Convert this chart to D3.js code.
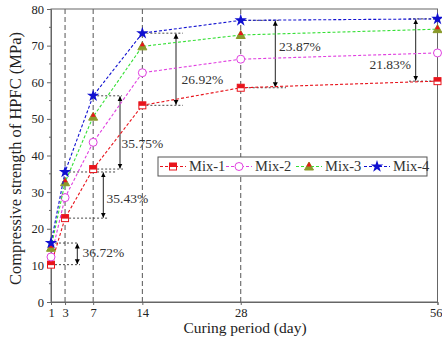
<!DOCTYPE html>
<html><head><meta charset="utf-8">
<script src="https://cdn.jsdelivr.net/npm/d3@7"></script>
<style>body{margin:0;background:#fff}</style>
</head><body><svg id="c" width="442" height="343"></svg>
<script>
const days = [1, 3, 7, 14, 28, 56];
const mix1 = [10.2, 22.9, 36.3, 53.7, 58.5, 60.3];
const mix2 = [12.3, 28.5, 43.6, 62.6, 66.3, 68.0];
const mix3 = [14.8, 32.7, 50.6, 69.8, 72.9, 74.5];
const mix4 = [16.1, 35.5, 56.3, 73.4, 76.9, 77.3];
const seriesNames = ["Mix-1", "Mix-2", "Mix-3", "Mix-4"];
const yTicks = [0, 10, 20, 30, 40, 50, 60, 70, 80];
const annotDays = [1, 3, 7, 14, 28, 56];
const annotLabels = ["36.72%", "35.43%", "35.75%", "26.92%", "23.87%", "21.83%"];

const FONT = "Liberation Serif";
const svg = d3.select("#c");
const W = 442, H = 343;
const m = {l: 51, r: 4.5, t: 9, b: 41};
const x = d3.scaleLinear().domain([1, 56]).range([m.l, W - m.r]);
const y = d3.scaleLinear().domain([0, 80]).range([H - m.b, m.t]);

// vertical reference lines
svg.append("g").selectAll("line").data(days.filter(d => d > 1 && d < 56)).join("line")
  .attr("x1", d => x(d)).attr("x2", d => x(d)).attr("y1", y(0)).attr("y2", y(80))
  .attr("stroke", "#555").attr("stroke-width", 1).attr("stroke-dasharray", "5,3");

// frame
svg.append("rect").attr("x", m.l).attr("y", m.t).attr("width", W - m.r - m.l).attr("height", H - m.b - m.t)
  .attr("fill", "none").attr("stroke", "#666").attr("stroke-width", 1);

// y axis
const ya = d3.axisLeft(y).tickValues(yTicks).tickSize(4).tickPadding(3);
const yg = svg.append("g").attr("transform", `translate(${m.l},0)`).call(ya).attr("font-family", FONT);
yg.select(".domain").attr("stroke", "#666");
yg.selectAll(".tick line").attr("stroke", "#666");
yg.selectAll("text").attr("font-size", 12.5).attr("fill", "#222");
svg.append("g").selectAll("line").data(d3.range(5, 80, 10)).join("line")
  .attr("x1", m.l - 2).attr("x2", m.l).attr("y1", d => y(d)).attr("y2", d => y(d)).attr("stroke", "#666");

// x axis
const xa = d3.axisBottom(x).tickValues(days).tickSize(3).tickPadding(3);
const xg = svg.append("g").attr("transform", `translate(0,${y(0)})`).call(xa).attr("font-family", FONT);
xg.select(".domain").attr("stroke", "#666");
xg.selectAll(".tick line").attr("stroke", "#666");
xg.selectAll("text").attr("font-size", 12.5).attr("fill", "#222");
xg.selectAll(".tick").filter(d => d === 56).select("text").attr("text-anchor", "end").attr("x", 4.5);

// titles
svg.append("text").attr("x", 245).attr("y", 333).attr("text-anchor", "middle").attr("font-family", FONT).attr("font-size", 15.5).attr("fill", "#222").text("Curing period (day)");
svg.append("text").attr("transform", `translate(21,${(m.t + y(0)) / 2 + 3}) rotate(-90)`).attr("text-anchor", "middle").attr("font-family", FONT).attr("font-size", 16.5).attr("fill", "#222").text("Compressive strength of HPFC (MPa)");

// annotations
const defs = svg.append("defs");
defs.append("marker").attr("id", "ah").attr("viewBox", "0 0 10 10").attr("refX", 10).attr("refY", 5)
  .attr("markerWidth", 5).attr("markerHeight", 6).attr("orient", "auto-start-reverse").attr("markerUnits", "userSpaceOnUse")
  .append("path").attr("d", "M0,0 L10,5 L0,10 z").attr("fill", "#000");
// layout per annotation: [topLineEnd, bottomLineEnd, arrowX, labelX, labelY, anchor, lineStart]
const annotLayout = [
  [78, 80, 77.3, 82.5, 256.5, "start", null],
  [117, 108, 103.3, 106.5, 202.5, "start", null],
  [122, 123, 120, 121.5, 148, "start", null],
  [183, 183, 176, 181.5, 84, "start", null],
  [280, 286, 275.3, 279, 50.5, "start", null],
  [437, 437, 415.7, 411, 69, "end", 409]
];
const ag = svg.append("g").attr("font-family", FONT);
annotDays.forEach((d, i) => {
  const L = annotLayout[i];
  const j = days.indexOf(d);
  const yt = y(mix4[j]), yb = y(mix1[j]);
  const xs = L[6] == null ? x(d) : L[6];
  ag.append("line").attr("x1", xs).attr("x2", L[0]).attr("y1", yt).attr("y2", yt).attr("stroke", "#333").attr("stroke-dasharray", "2,2").attr("stroke-width", 0.9);
  ag.append("line").attr("x1", xs).attr("x2", L[1]).attr("y1", yb).attr("y2", yb).attr("stroke", "#333").attr("stroke-dasharray", "2,2").attr("stroke-width", 0.9);
  ag.append("line").attr("x1", L[2]).attr("x2", L[2]).attr("y1", yt + 0.5).attr("y2", yb - 0.5).attr("stroke", "#222").attr("stroke-width", 1)
    .attr("marker-start", "url(#ah)").attr("marker-end", "url(#ah)");
  ag.append("text").attr("x", L[3]).attr("y", L[4]).attr("text-anchor", L[5]).attr("font-size", 13.5).attr("fill", "#333").text(annotLabels[i]);
});

// series
const colors = ["#e8141c", "#e040e0", "#36e036", "#1010d0"];
const allSeries = [mix1, mix2, mix3, mix4];
const line = d3.line().x((d, i) => x(days[i])).y(d => y(d));
const starPath = d3.symbol(d3.symbolStar, 48)();
function drawMarker(g, k) {
  if (k === 0) {
    g.append("rect").attr("x", -3.5).attr("y", -3.5).attr("width", 7).attr("height", 7).attr("fill", "#fff").attr("stroke", "#e8141c").attr("stroke-width", 1);
    g.append("rect").attr("x", -3.5).attr("y", -3.5).attr("width", 7).attr("height", 4).attr("fill", "#e8141c");
  } else if (k === 1) {
    g.append("circle").attr("r", 4).attr("fill", "#fff").attr("stroke", "#e040e0").attr("stroke-width", 1);
  } else if (k === 2) {
    g.append("path").attr("d", "M0,-4.5 L4.5,3.5 L-4.5,3.5 Z").attr("fill", "#8a9a2a").attr("stroke", "#8a9a2a");
    g.append("path").attr("d", "M0,-4.5 L2.5,0 L-2.5,0 Z").attr("fill", "#e8141c");
  } else {
    g.append("path").attr("d", starPath).attr("fill", "#1010d0");
  }
}
allSeries.forEach((s, k) => {
  svg.append("path").datum(s).attr("d", line).attr("fill", "none").attr("stroke", colors[k]).attr("stroke-width", 1.1).attr("stroke-dasharray", "3,2");
  s.forEach((v, i) => drawMarker(svg.append("g").attr("transform", `translate(${x(days[i])},${y(v)})`), k));
});

// legend
const lg = svg.append("g").attr("font-family", FONT);
lg.append("rect").attr("x", 158).attr("y", 157).attr("width", 269).attr("height", 19).attr("fill", "#fff").attr("stroke", "#555");
const legX = [160, 226, 296, 364];
seriesNames.forEach((n, k) => {
  const g = lg.append("g").attr("transform", `translate(${legX[k]},166.5)`);
  g.append("line").attr("x1", 0).attr("x2", 26).attr("y1", 0).attr("y2", 0).attr("stroke", colors[k]).attr("stroke-dasharray", "3,2").attr("stroke-width", 1.1);
  drawMarker(g.append("g").attr("transform", "translate(13,0)"), k);
  g.append("text").attr("x", 29).attr("y", 4.5).attr("font-size", 14.5).attr("fill", "#333").text(n);
});
</script></body></html>
